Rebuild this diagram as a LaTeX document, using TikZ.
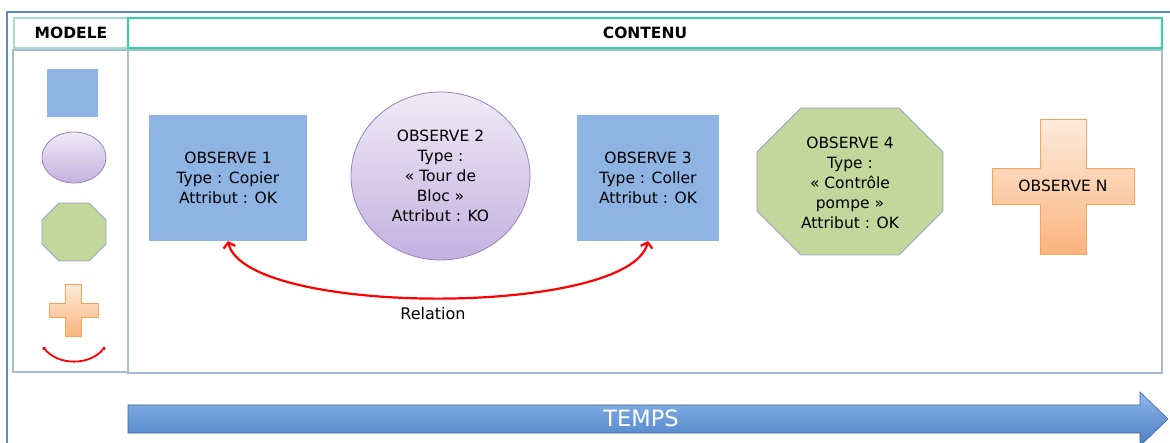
\documentclass[tikz,border=0pt]{standalone}
\usepackage{fontspec}
\setmainfont{DejaVu Sans}
\usetikzlibrary{arrows.meta,calc,shapes.geometric}
\definecolor{framecol}{HTML}{5B8BC6}
\definecolor{boxline}{HTML}{A9BAD3}
\definecolor{tealline}{HTML}{2DD6A6}
\definecolor{tealpale}{HTML}{9EDFD0}
\definecolor{obsblue}{HTML}{8EB4E3}
\definecolor{lilatop}{HTML}{EFEAF6}
\definecolor{lilabot}{HTML}{C3B1E0}
\definecolor{lilaline}{HTML}{9A82BF}
\definecolor{octgreen}{HTML}{C3D69B}
\definecolor{octline}{HTML}{8DA5C6}
\definecolor{pinktop}{HTML}{FDEBDC}
\definecolor{pinkbot}{HTML}{FAB47E}
\definecolor{pinkline}{HTML}{F7A35C}
\definecolor{timetop}{HTML}{8DB6EC}
\definecolor{timebot}{HTML}{4A7EC2}
\newcommand\obsfont{\fontsize{15.5}{20}\selectfont}
\def\octagon[#1](#2)(#3:#4:#5){\draw[#1] ($(#2)+({-(#3)},{-(#4)+(#5)})$) -- ($(#2)+({-(#3)+(#5)},{-(#4)})$) -- ($(#2)+({(#3)-(#5)},{-(#4)})$) -- ($(#2)+({#3},{-(#4)+(#5)})$) -- ($(#2)+({#3},{(#4)-(#5)})$) -- ($(#2)+({(#3)-(#5)},{#4})$) -- ($(#2)+({-(#3)+(#5)},{#4})$) -- ($(#2)+({-(#3)},{(#4)-(#5)})$) -- cycle;}
\def\plusshape[#1](#2)(#3:#4:#5:#6){\draw[#1] ($(#2)+({-(#5)},{-(#4)})$) -- ($(#2)+({#5},{-(#4)})$) -- ($(#2)+({#5},{-(#6)})$) -- ($(#2)+({#3},{-(#6)})$) -- ($(#2)+({#3},{#6})$) -- ($(#2)+({#5},{#6})$) -- ($(#2)+({#5},{#4})$) -- ($(#2)+({-(#5)},{#4})$) -- ($(#2)+({-(#5)},{#6})$) -- ($(#2)+({-(#3)},{#6})$) -- ($(#2)+({-(#3)},{-(#6)})$) -- ($(#2)+({-(#5)},{-(#6)})$) -- cycle;}

\begin{document}
\begin{tikzpicture}[x=1pt,y=-1pt,
		headcell/.style={rectangle,line width=1.2pt,minimum height=30pt,outer sep=0pt,font=\fontsize{15.5}{17}\selectfont\bfseries},
		obsbox/.style={rectangle,fill=obsblue,minimum width=158pt,minimum height=126pt,outer sep=0pt,align=center,font=\obsfont},
		lilashape/.style={ellipse,top color=lilatop,bottom color=lilabot,draw=lilaline,line width=0.8pt},
		octfill/.style={fill=octgreen,draw=octline,line width=0.8pt},
		crossfill/.style={top color=pinktop,bottom color=pinkbot,draw=pinkline,line width=0.8pt},
		relline/.style={draw=red,line width=2.2pt}]
	\useasboundingbox (0,0) rectangle (1170,443);
	%%%%% CADRE %%%%%
	\draw[framecol, line width=1.5pt] (7,443) -- (7,12) -- (1170,12);
	\node[headcell, draw=tealpale, minimum width=114pt] (modele) at (71,33) {MODELE};
	\node[headcell, draw=tealline, minimum width=1034pt] (contenu) at (645,33) {CONTENU};
	\draw[boxline, line width=1.2pt] (13,50) rectangle (128,372);
	\draw[boxline, line width=1.2pt] (128,50) rectangle (1162,373);
	
	%%%%% MODELE %%%%%
	\node[fill=obsblue, minimum width=51pt, minimum height=48pt] (legsq) at (72.5,93) {};
	\node[lilashape, minimum width=64pt, minimum height=51pt] (legel) at (74,157.5) {};
	\octagon[octfill](74,232)(32:29:17)
	\plusshape[crossfill](73.5,310)(24.5:26:8:7)
	\coordinate (legA) at (43,347);
	\coordinate (legB) at (105,347);
	\draw[relline, line width=1.8pt, {Straight Barb[length=1pt,width=3pt]}-{Straight Barb[length=1pt,width=3pt]}] (legA) .. controls (58,366) and (90,366) .. (legB);
	
	%%%%% CONTENU %%%%%
	\node[obsbox] (obs1) at (228,178) {OBSERVE 1\\Type : Copier\\Attribut : OK};
	\node[lilashape, minimum width=179pt, minimum height=168pt, align=center, font=\obsfont] (obs2) at (440.5,176) {OBSERVE 2\\Type :\\« Tour de\\Bloc »\\Attribut : KO};
	\node[obsbox, minimum width=142pt] (obs3) at (648,178) {OBSERVE 3\\Type : Coller\\Attribut : OK};
	\octagon[octfill](850,181.5)(93:73.5:44)
	\node[align=center, font=\obsfont] (obs4) at (850,183) {OBSERVE 4\\Type :\\« Contrôle\\pompe »\\Attribut : OK};
	\plusshape[crossfill](1063,186.5)(71:67.5:23:18)
	\node[font=\obsfont] (obsN) at (1063,186) {OBSERVE N};
	
	\draw[relline, {Straight Barb[length=5pt,width=12pt]}-{Straight Barb[length=5pt,width=12pt]}] (obs1.south) .. controls (245,317) and (630,317) .. (obs3.south);
	\node[font=\fontsize{16}{20}\selectfont] (rel) at (433,314) {Relation};
	
	%%%%% TEMPS %%%%%
	\draw[top color=timetop, bottom color=timebot, draw=timebot!80!black, line width=0.6pt] (128,405) -- (1140,405) -- (1140,392) -- (1168,419) -- (1140,446) -- (1140,433) -- (128,433) -- cycle;
	\node[text=white, font=\fontsize{22.5}{24}\selectfont] (temps) at (641,418) {TEMPS};
\end{tikzpicture}
\end{document}
